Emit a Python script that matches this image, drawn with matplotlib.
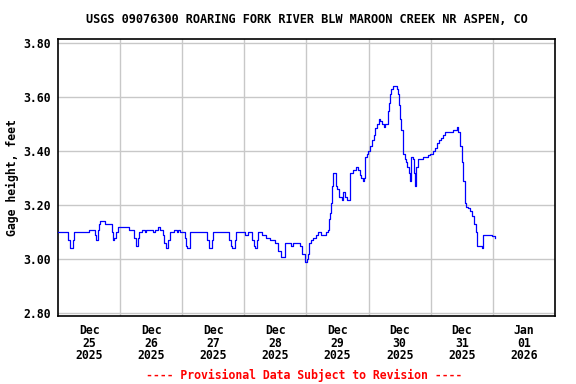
import matplotlib
matplotlib.use("Agg")
import matplotlib.pyplot as plt
import numpy as np
import pandas as pd

# gage height readings, hours after 2025-12-25 00:00
hours = [0, 4.0, 4.6, 5.7, 6.1, 12.1, 14.2, 14.7, 15.3, 16.0, 16.3, 18.3, 20.8, 21.3, 21.8,
         22.5, 23.1, 27.3, 29.5, 30.0, 31.0, 31.4, 32.5, 33.5, 34.0, 36.6, 37.5, 38.5, 39.5,
         40.5, 41.0, 41.9, 42.5, 43.3, 44.9, 46.0, 46.5, 47.2, 49.0, 49.5, 50.0, 50.9, 57.7,
         58.2, 59.4, 59.8, 66.1, 66.8, 67.4, 68.2, 68.9, 72.2, 73.4, 75.0, 75.6, 76.3, 76.8,
         77.3, 78.8, 80.5, 82.0, 83.7, 85.0, 86.3, 87.8, 90.2, 90.6, 93.6, 94.2, 95.3, 96.2,
         96.6, 97.1, 97.8, 98.5, 99.7, 100.5, 101.6, 103.6, 104.2, 104.7, 105.1, 105.4, 105.8,
         106.2, 107.4, 107.9, 108.6, 109.6, 110.1, 110.8, 111.5, 113.0, 114.0, 115.2, 115.9,
         116.5, 117.1, 117.9, 118.3, 118.6, 119.2, 119.8, 120.6, 121.3, 122.1, 122.5, 123.2,
         123.9, 124.4, 125.0, 125.9, 126.4, 127.3, 127.8, 128.3, 128.8, 129.5, 131.0, 131.4,
         131.8, 132.2, 132.7, 133.1, 134.0, 134.4, 135.0, 135.5, 136.0, 136.4, 137.2, 137.6,
         138.0, 138.4, 138.9, 139.1, 141.1, 143.0, 143.8, 144.9, 145.7, 146.5, 147.2, 148.0,
         148.8, 149.6, 152.7, 154.2, 154.6, 155.2, 156.0, 156.5, 157.2, 157.7, 158.5, 159.2,
         160.0, 160.8, 161.6, 162.0, 163.9, 164.3, 167.6, 168.9]
gage_ft = [3.10, 3.07, 3.04, 3.07, 3.10, 3.11, 3.09, 3.07, 3.11, 3.13, 3.14, 3.13, 3.10, 3.07, 3.08,
           3.10, 3.12, 3.11, 3.08, 3.05, 3.08, 3.10, 3.11, 3.10, 3.11, 3.10, 3.11, 3.12, 3.11,
           3.09, 3.06, 3.04, 3.07, 3.10, 3.11, 3.10, 3.11, 3.10, 3.08, 3.05, 3.04, 3.10, 3.07,
           3.04, 3.07, 3.10, 3.07, 3.05, 3.04, 3.07, 3.10, 3.09, 3.10, 3.07, 3.05, 3.04, 3.07,
           3.10, 3.09, 3.08, 3.07, 3.06, 3.03, 3.01, 3.06, 3.05, 3.06, 3.05, 3.02, 2.99, 3.00,
           3.02, 3.06, 3.07, 3.08, 3.09, 3.10, 3.09, 3.10, 3.11, 3.15, 3.17, 3.21, 3.27,
           3.32, 3.27, 3.26, 3.23, 3.22, 3.25, 3.23, 3.22, 3.32, 3.33, 3.34, 3.33,
           3.31, 3.30, 3.29, 3.30, 3.38, 3.39, 3.40, 3.42, 3.44, 3.46, 3.485, 3.50,
           3.52, 3.51, 3.50, 3.49, 3.50, 3.55, 3.58, 3.61, 3.63, 3.64, 3.63, 3.61,
           3.57, 3.52, 3.48, 3.39, 3.37, 3.36, 3.34, 3.32, 3.29, 3.38, 3.37, 3.32,
           3.27, 3.34, 3.36, 3.37, 3.38, 3.385, 3.39, 3.40, 3.41, 3.43, 3.44, 3.45,
           3.46, 3.47, 3.48, 3.49, 3.47, 3.42, 3.36, 3.29, 3.21, 3.195, 3.19, 3.18,
           3.16, 3.13, 3.10, 3.05, 3.04, 3.09, 3.085, 3.08]

start = pd.Timestamp("2025-12-25 00:00")
times = start + pd.to_timedelta(hours, unit="h")

y_ticks = [2.80, 3.00, 3.20, 3.40, 3.60, 3.80]
title = "USGS 09076300 ROARING FORK RIVER BLW MAROON CREEK NR ASPEN, CO"
ylabel = "Gage height, feet"
footer = "---- Provisional Data Subject to Revision ----"

mono = "DejaVu Sans Mono"

fig = plt.figure(figsize=(5.76, 3.84), dpi=100)
ax = fig.add_axes([0.1007, 0.177, 0.8628, 0.7207])

ax.plot(times, gage_ft, color="#0000ff", lw=0.9, drawstyle="steps-post", zorder=3)

ax.set_ylim(2.79, 3.814)
ax.set_xlim(start, start + pd.Timedelta(days=8))
ax.set_yticks(y_ticks)
ax.set_yticklabels(["%.2f" % v for v in y_ticks], fontfamily=mono, fontweight="bold", fontsize=8.3)

# labels at noon, grid at midnight
noon = pd.date_range("2025-12-25 12:00", periods=8, freq="D")
midnight = pd.date_range("2025-12-26", periods=7, freq="D")
ax.set_xticks(noon)
ax.set_xticklabels([d.strftime("%b\n%d\n%Y") for d in noon], fontfamily=mono,
                   fontweight="bold", fontsize=8.3, linespacing=0.95)
ax.set_xticks(midnight, minor=True)
ax.tick_params(axis="both", which="both", length=0)
ax.tick_params(axis="x", pad=6)
ax.tick_params(axis="y", pad=5)
ax.grid(False)
ax.xaxis.grid(True, which="minor", color="#c8c8c8", lw=1.0)
ax.yaxis.grid(True, which="major", color="#c8c8c8", lw=1.0)
ax.set_axisbelow(True)
for s in ax.spines.values():
    s.set_linewidth(1.2)
    s.set_color("black")

ax.set_ylabel(ylabel, fontfamily=mono, fontweight="bold", fontsize=8.3, labelpad=3)
ax.set_title(title, fontfamily=mono, fontweight="bold", fontsize=8.6, pad=12)
fig.text(0.528, 0.005, footer, color="#ff0000", fontfamily=mono, fontweight="bold",
         fontsize=8.3, ha="center", va="bottom")

fig.savefig("out.png", dpi=100)
